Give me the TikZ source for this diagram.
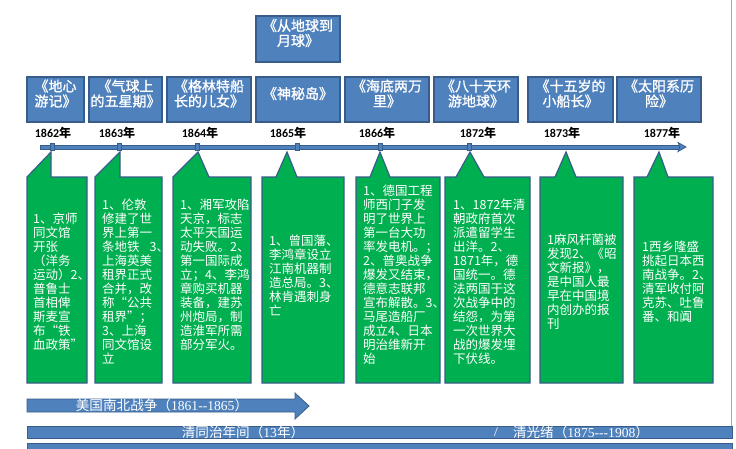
\documentclass[tikz,border=0pt]{standalone}
\usepackage{fontspec}
\setmainfont{Carlito}
\newfontfamily\cjk{Noto Sans CJK SC}
\newfontfamily\cjkb[FakeBold=1.2]{Noto Sans CJK SC}
\newfontfamily\numserif{Liberation Serif}
\usetikzlibrary{fit}
\definecolor{bfill}{HTML}{4F81BD}
\definecolor{bdr}{HTML}{385D8A}
\definecolor{gfill}{HTML}{00B050}
\definecolor{vline}{HTML}{A5A5B5}
\begin{document}
\begin{tikzpicture}[x=1pt,y=-1pt,
  titlebox/.style={draw=bdr, fill=bfill, line width=1.2pt, inner sep=0pt, align=center,
    text=white, font=\cjkb\fontsize{14}{15}\selectfont},
  callout/.style={draw=bdr, fill=gfill, line width=1.2pt},
  ctext/.style={anchor=north west, inner sep=0pt, align=left, text=white,
    font=\cjk\fontsize{12.5}{14}\selectfont},
  yearlbl/.style={inner sep=0pt, font=\bfseries\fontsize{12}{12}\selectfont},
  marker/.style={draw=bdr, fill=bfill, line width=0.8pt, minimum width=4pt,
    minimum height=7pt, inner sep=0pt},
  barshape/.style={draw=bdr, fill=bfill, line width=0.8pt},
  bartext/.style={inner sep=0pt, text=white, font=\cjk\fontsize{13.6}{13.6}\selectfont}
]
\useasboundingbox (0,0) rectangle (736,448);
\fill[white] (0,0) rectangle (736,448);

% right border line
\draw[vline, line width=0.8pt] (731.5,0) -- (731.5,426);

% title boxes
\node[titlebox, fit={(256,16)(340,62)}] (top) {《从地球到\\月球》};
\node[titlebox, fit={(27,77)(84,122)}] (t1) {《地心\\游记》};
\node[titlebox, fit={(89,77)(162,122)}] (t2) {《气球上\\的五星期》};
\node[titlebox, fit={(167,77)(251,122)}] (t3) {《格林特船\\长的儿女》};
\node[titlebox, fit={(256,77)(340,122)}] (t4) {《神秘岛》};
\node[titlebox, fit={(345,77)(429,122)}] (t5) {《海底两万\\里》};
\node[titlebox, fit={(434,77)(518,122)}] (t6) {《八十天环\\游地球》};
\node[titlebox, fit={(528,77)(613,122)}] (t7) {《十五岁的\\小船长》};
\node[titlebox, fit={(617,77)(701,122)}] (t8) {《太阳系历\\险》};

% years
\node[yearlbl] (y1) at (53,133) {1862{\cjk 年}};
\node[yearlbl] (y2) at (117,133) {1863{\cjk 年}};
\node[yearlbl] (y3) at (200,133) {1864{\cjk 年}};
\node[yearlbl] (y4) at (288,133) {1865{\cjk 年}};
\node[yearlbl] (y5) at (377,133) {1866{\cjk 年}};
\node[yearlbl] (y6) at (478,133) {1872{\cjk 年}};
\node[yearlbl] (y7) at (562,133) {1873{\cjk 年}};
\node[yearlbl] (y8) at (662,133) {1877{\cjk 年}};

% timeline
\draw[barshape] (40,145) rectangle (679,149);
\draw[barshape] (678,142.5) -- (686,147) -- (678,151.5) -- (680,147) -- cycle;
\node[marker] (m1) at (52,147) {};
\node[marker] (m2) at (119,147) {};
\node[marker] (m3) at (197,147) {};
\node[marker] (m4) at (297,147) {};
\node[marker] (m5) at (380,147) {};
\node[marker] (m6) at (469,147) {};

% callouts
\draw[callout] (27,383) -- (27,177) -- (51,152) -- (51,177) -- (87,177) -- (87,383) -- cycle;
\draw[callout] (95,383) -- (95,177) -- (120,152) -- (120,177) -- (162,177) -- (162,383) -- cycle;
\draw[callout] (173,383) -- (173,177) -- (198,152) -- (209,177) -- (251,177) -- (251,383) -- cycle;
\draw[callout] (262,383) -- (262,177) -- (276,177) -- (287,152) -- (297,177) -- (344,177) -- (344,383) -- cycle;
\draw[callout] (356,383) -- (356,177) -- (370,177) -- (380,152) -- (390,177) -- (440,177) -- (440,383) -- cycle;
\draw[callout] (445,383) -- (445,177) -- (456,177) -- (470,152) -- (484,177) -- (530,177) -- (530,383) -- cycle;
\draw[callout] (540,383) -- (540,177) -- (555,177) -- (566,152) -- (576,177) -- (623,177) -- (623,383) -- cycle;
\draw[callout] (634,383) -- (634,177) -- (647,177) -- (659,152) -- (668,177) -- (713,177) -- (713,383) -- cycle;

% callout texts
\node[ctext] (c1) at (33,213) {1、京师\\同文馆\\开张\\（洋务\\运动）2、\\普鲁士\\首相俾\\斯麦宣\\布“铁\\血政策”};
\node[ctext] (c2) at (102,199) {1、伦敦\\修建了世\\界上第一\\条地铁\hspace{10pt}3、\\上海英美\\租界正式\\合并，改\\称“公共\\租界”；\\3、上海\\同文馆设\\立};
\node[ctext] (c3) at (180,199) {1、湘军攻陷\\天京，标志\\太平天国运\\动失败。2、\\第一国际成\\立；4、李鸿\\章购买机器\\装备，建苏\\州炮局，制\\造淮军所需\\部分军火。};
\node[ctext] (c4) at (269,235) {1、曾国藩、\\李鸿章设立\\江南机器制\\造总局。3、\\林肯遇刺身\\亡};
\node[ctext] (c5) at (363,185) {1、德国工程\\师西门子发\\明了世界上\\第一台大功\\率发电机。；\\2、普奥战争\\爆发又结束，\\德意志联邦\\宣布解散。3、\\马尾造船厂\\成立4、日本\\明治维新开\\始};
\node[ctext] (c6) at (453,199) {1、1872年清\\朝政府首次\\派遣留学生\\出洋。2、\\1871年，德\\国统一。德\\法两国于这\\次战争中的\\结怨，为第\\一次世界大\\战的爆发埋\\下伏线。};
\node[ctext] (c7) at (547,234) {1麻风杆菌被\\发现2、《昭\\文新报》，\\是中国人最\\早在中国境\\内创办的报\\刊};
\node[ctext] (c8) at (642,241) {1西乡隆盛\\挑起日本西\\南战争。2、\\清军收付阿\\克苏、吐鲁\\番、和阗};

% bottom bars
\draw[barshape] (27,399) -- (295,399) -- (295,393) -- (309,406) -- (295,419) -- (295,412) -- (27,412) -- cycle;
\node[bartext] (war) at (162,405.5) {美国南北战争（{\numserif 1861-{}-1865}）};
\draw[barshape] (27,426.5) rectangle (732,438.5);
\node[bartext] (tz) at (243,432.5) {清同治年间（{\numserif 13}年）};
\node[bartext] (sl) at (496,432.5) {\numserif /};
\node[bartext] (gx) at (581,432.5) {清光绪（{\numserif 1875-{}-{}-1908}）};
\draw[barshape] (27,443.5) rectangle (732,450);
\end{tikzpicture}
\end{document}
